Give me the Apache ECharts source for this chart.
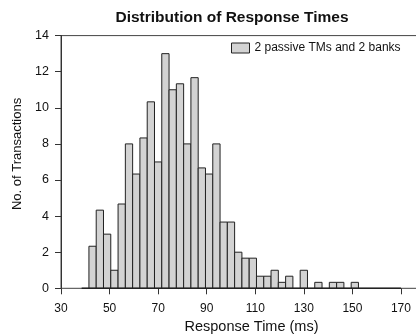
<!DOCTYPE html>
<html>
<head>
<meta charset="utf-8">
<script src="https://cdn.jsdelivr.net/npm/echarts@6/dist/echarts.min.js"></script>
<style>html,body{margin:0;padding:0;background:#fff}#c{width:416px;height:334px}</style>
</head>
<body>
<div id="c"></div>
<script>
// Bin centers (ms) and average number of transactions per bin
const binCenters = [43,46,49,52,55,58,61,64,67,70,73,76,79,82,85,88,91,94,97,100,103,106,109,112,115,118,121,124,127,130,133,136,139,142,145,148,151];
const counts = [2.33,4.33,3,1,4.67,8,6.33,8.33,10.33,7,13,11,11.33,8,11.67,6.67,6.33,8,3.67,3.67,2,1.67,1.67,0.67,0.67,1,0.33,0.67,0,1,0,0.33,0,0.33,0.33,0,0.33];
const binWidth = 3;
const baselineRange = [38.5, 170];
const xTicks = [30,50,70,90,110,130,150,170];
const seriesName = '2 passive TMs and 2 banks';

const font = 'Liberation Sans, Arial, Helvetica, sans-serif';
const barStyle = {color: '#d3d3d3', borderColor: '#222', borderWidth: 1};
const chart = echarts.init(document.getElementById('c'), null, {renderer: 'canvas'});
chart.setOption({
  animation: false,
  textStyle: {fontFamily: font},
  title: {
    text: 'Distribution of Response Times',
    left: 232, top: 10,
    textAlign: 'center',
    padding: 0,
    textStyle: {fontFamily: font, fontSize: 15.5, fontWeight: 'bold', color: '#111'}
  },
  legend: {
    data: [{name: seriesName, itemStyle: barStyle}],
    icon: 'rect',
    left: 231, top: 42,
    itemWidth: 18, itemHeight: 10, itemGap: 5,
    padding: 0,
    textStyle: {fontFamily: font, fontSize: 12, color: '#111'}
  },
  grid: {
    left: 61, right: -26, top: 35.6, bottom: 45.7,
    containLabel: false,
    outerBoundsMode: 'none',
    show: true, borderColor: '#444', borderWidth: 1
  },
  xAxis: {
    type: 'value', min: 30, max: 186.9,
    name: 'Response Time (ms)', nameLocation: 'middle', nameGap: 27,
    nameTextStyle: {fontFamily: font, fontSize: 14.5, color: '#111'},
    splitLine: {show: false},
    axisLine: {show: true, lineStyle: {color: '#666', width: 1}},
    axisTick: {show: true, length: 6, inside: false, customValues: xTicks, lineStyle: {color: '#333'}},
    axisLabel: {customValues: xTicks, fontFamily: font, fontSize: 12, color: '#111', margin: 14}
  },
  yAxis: {
    type: 'value', min: 0, max: 14, interval: 2,
    name: 'No. of Transactions', nameLocation: 'middle', nameGap: 35, nameRotate: 90,
    nameTextStyle: {fontFamily: font, fontSize: 13, color: '#111', padding: [0, 0, 0, 16]},
    splitLine: {show: false},
    axisLine: {show: true, lineStyle: {color: '#333', width: 1}},
    axisTick: {show: true, length: 6, inside: false, lineStyle: {color: '#333'}},
    axisLabel: {fontFamily: font, fontSize: 12.5, color: '#111', margin: 12}
  },
  series: [
    {
      name: seriesName,
      type: 'custom',
      data: binCenters.map((c, i) => [c, counts[i]]),
      encode: {x: 0, y: 1},
      itemStyle: barStyle,
      renderItem: function (params, api) {
        const c = api.value(0), v = api.value(1);
        if (!v) return null;
        const p0 = api.coord([c - binWidth / 2, v]);
        const p1 = api.coord([c + binWidth / 2, 0]);
        return {
          type: 'rect',
          shape: {x: p0[0], y: p0[1], width: p1[0] - p0[0], height: p1[1] - p0[1]},
          style: {fill: barStyle.color, stroke: barStyle.borderColor, lineWidth: barStyle.borderWidth}
        };
      }
    },
    {
      name: 'baseline',
      type: 'line',
      data: baselineRange.map(x => [x, 0]),
      symbol: 'none',
      lineStyle: {color: '#222', width: 1.5},
      z: 3,
      silent: true
    }
  ]
});
</script>
</body>
</html>
